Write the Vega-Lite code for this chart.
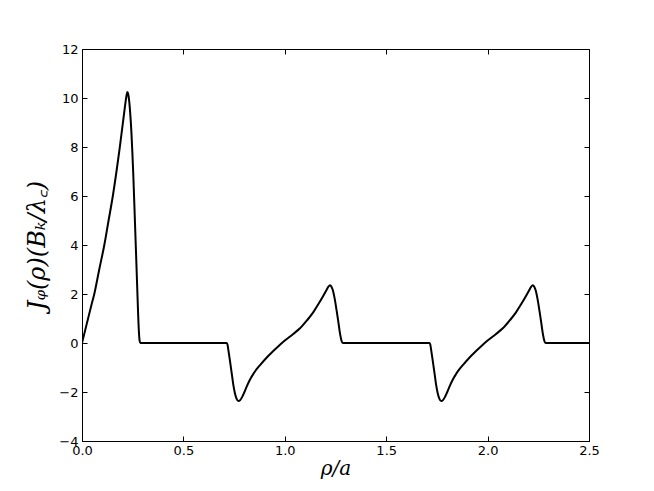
{
  "$schema": "https://vega.github.io/schema/vega-lite/v6.json",
  "autosize": {"type": "none"},
  "width": 507,
  "height": 392,
  "padding": {"left": 82, "top": 49, "right": 65, "bottom": 50},
  "background": "white",
  "config": {
    "view": {"stroke": "black", "strokeWidth": 1},
    "axis": {"grid": false, "domainColor": "black", "tickColor": "black", "labelColor": "black", "titleColor": "black", "labelFont": "DejaVu Sans", "labelFontSize": 13, "tickSize": -5, "tickWidth": 1, "domainWidth": 1}
  },
  "data": {"values": [
    {"x": 0, "y": 0}, {"x": 0.015, "y": 0.5}, {"x": 0.03, "y": 1.0}, {"x": 0.045, "y": 1.5}, {"x": 0.0606, "y": 2.0},
    {"x": 0.085, "y": 3.0}, {"x": 0.11, "y": 4.0}, {"x": 0.131, "y": 5.0}, {"x": 0.152, "y": 6.0}, {"x": 0.17, "y": 7.0},
    {"x": 0.185, "y": 7.9}, {"x": 0.198, "y": 8.75}, {"x": 0.208, "y": 9.4}, {"x": 0.215, "y": 9.85}, {"x": 0.22, "y": 10.12},
    {"x": 0.2235, "y": 10.24}, {"x": 0.228, "y": 10.15}, {"x": 0.233, "y": 9.85}, {"x": 0.238, "y": 9.35}, {"x": 0.243, "y": 8.7},
    {"x": 0.248, "y": 7.85}, {"x": 0.253, "y": 6.85}, {"x": 0.26, "y": 5.2}, {"x": 0.268, "y": 3.3}, {"x": 0.275, "y": 1.6},
    {"x": 0.28, "y": 0.55}, {"x": 0.284, "y": 0.1}, {"x": 0.288, "y": 0},
    {"x": 0.713, "y": 0}, {"x": 0.717, "y": -0.05}, {"x": 0.722, "y": -0.3}, {"x": 0.73, "y": -0.75}, {"x": 0.738, "y": -1.22},
    {"x": 0.746, "y": -1.7}, {"x": 0.754, "y": -2.05}, {"x": 0.762, "y": -2.27}, {"x": 0.771, "y": -2.37}, {"x": 0.78, "y": -2.33},
    {"x": 0.79, "y": -2.2}, {"x": 0.8, "y": -2.02}, {"x": 0.812, "y": -1.78}, {"x": 0.828, "y": -1.5}, {"x": 0.845, "y": -1.26},
    {"x": 0.862, "y": -1.06}, {"x": 0.878, "y": -0.9}, {"x": 0.91, "y": -0.6}, {"x": 0.943, "y": -0.33}, {"x": 0.975, "y": -0.08},
    {"x": 1.0, "y": 0.1}, {"x": 1.04, "y": 0.36}, {"x": 1.075, "y": 0.6}, {"x": 1.11, "y": 0.93}, {"x": 1.14, "y": 1.25},
    {"x": 1.165, "y": 1.58}, {"x": 1.19, "y": 1.93}, {"x": 1.205, "y": 2.15}, {"x": 1.215, "y": 2.3}, {"x": 1.223, "y": 2.36},
    {"x": 1.23, "y": 2.3}, {"x": 1.237, "y": 2.15}, {"x": 1.245, "y": 1.85}, {"x": 1.256, "y": 1.3}, {"x": 1.265, "y": 0.8},
    {"x": 1.273, "y": 0.35}, {"x": 1.28, "y": 0.08}, {"x": 1.286, "y": 0},
    {"x": 1.713, "y": 0}, {"x": 1.717, "y": -0.05}, {"x": 1.722, "y": -0.3}, {"x": 1.73, "y": -0.75}, {"x": 1.738, "y": -1.22},
    {"x": 1.746, "y": -1.7}, {"x": 1.754, "y": -2.05}, {"x": 1.762, "y": -2.27}, {"x": 1.771, "y": -2.37}, {"x": 1.78, "y": -2.33},
    {"x": 1.79, "y": -2.2}, {"x": 1.8, "y": -2.02}, {"x": 1.812, "y": -1.78}, {"x": 1.828, "y": -1.5}, {"x": 1.845, "y": -1.26},
    {"x": 1.862, "y": -1.06}, {"x": 1.878, "y": -0.9}, {"x": 1.91, "y": -0.6}, {"x": 1.943, "y": -0.33}, {"x": 1.975, "y": -0.08},
    {"x": 2.0, "y": 0.1}, {"x": 2.04, "y": 0.36}, {"x": 2.075, "y": 0.6}, {"x": 2.11, "y": 0.93}, {"x": 2.14, "y": 1.25},
    {"x": 2.165, "y": 1.58}, {"x": 2.19, "y": 1.93}, {"x": 2.205, "y": 2.15}, {"x": 2.215, "y": 2.3}, {"x": 2.223, "y": 2.36},
    {"x": 2.23, "y": 2.3}, {"x": 2.237, "y": 2.15}, {"x": 2.245, "y": 1.85}, {"x": 2.256, "y": 1.3}, {"x": 2.265, "y": 0.8},
    {"x": 2.273, "y": 0.35}, {"x": 2.28, "y": 0.08}, {"x": 2.286, "y": 0}, {"x": 2.5, "y": 0}
  ]},
  "layer": [
    {
      "mark": {"type": "line", "color": "black", "strokeWidth": 2, "interpolate": "monotone", "clip": true},
      "encoding": {
        "x": {"field": "x", "type": "quantitative", "scale": {"domain": [0, 2.5], "nice": false, "zero": false},
          "axis": {"values": [0, 0.5, 1, 1.5, 2, 2.5], "format": ".1f", "labelPadding": 8, "title": "ρ/a", "titleFont": "DejaVu Serif", "titleFontStyle": "italic", "titleFontWeight": "normal", "titleFontSize": 20, "titlePadding": 1, "labelFlush": false}},
        "y": {"field": "y", "type": "quantitative", "scale": {"domain": [-4, 12], "nice": false, "zero": false},
          "axis": {"values": [-4, -2, 0, 2, 4, 6, 8, 10, 12], "labelPadding": 9, "title": "Jᵩ(ρ)(Bₖ/λ꜀)", "titleFont": "DejaVu Serif", "titleFontStyle": "italic", "titleFontWeight": "normal", "titleFontSize": 24, "titlePadding": 9, "labelFlush": false}}
      }
    },
    {
      "mark": {"type": "point", "opacity": 0},
      "encoding": {
        "x": {"field": "x", "type": "quantitative", "axis": {"orient": "top", "values": [0, 0.5, 1, 1.5, 2, 2.5], "labels": false, "title": null}},
        "y": {"field": "y", "type": "quantitative", "axis": {"orient": "right", "values": [-4, -2, 0, 2, 4, 6, 8, 10, 12], "labels": false, "title": null}}
      }
    }
  ],
  "resolve": {"axis": {"x": "independent", "y": "independent"}}
}
